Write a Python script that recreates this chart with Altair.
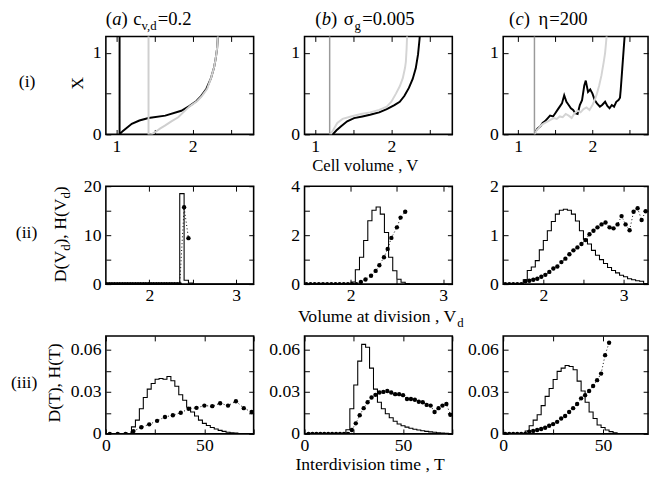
import altair as alt
import pandas as pd

FONT = "Liberation Serif"
FS = 18
TS = 19

# ---------------- Row (i): X vs cell volume V ----------------
a1_black_v = [1.04, 1.04, 1.08, 1.12, 1.20, 1.30, 1.42, 1.64, 1.85, 1.96, 2.05, 2.11, 2.18, 2.24, 2.28, 2.30, 2.32, 2.33, 2.34]
a1_black_x = [1.30, 0.00, 0.04, 0.07, 0.13, 0.17, 0.20, 0.23, 0.29, 0.35, 0.41, 0.47, 0.56, 0.69, 0.82, 0.92, 1.05, 1.20, 1.30]
a1_gray_v = [1.42, 1.42, 1.46, 1.51, 1.57, 1.64, 1.72, 1.81, 1.92, 1.97, 2.06, 2.12, 2.19, 2.24, 2.28, 2.30, 2.32, 2.33, 2.34]
a1_gray_x = [1.30, 0.00, 0.00, 0.03, 0.07, 0.11, 0.16, 0.21, 0.31, 0.35, 0.41, 0.47, 0.56, 0.69, 0.82, 0.92, 1.05, 1.20, 1.30]

b1_black_v = [1.23, 1.28, 1.34, 1.42, 1.51, 1.62, 1.72, 1.84, 1.94, 2.04, 2.11, 2.17, 2.23, 2.28, 2.32, 2.35, 2.37, 2.38]
b1_black_x = [0.00, 0.05, 0.10, 0.16, 0.20, 0.22, 0.24, 0.27, 0.31, 0.36, 0.40, 0.47, 0.57, 0.68, 0.81, 0.98, 1.17, 1.30]
b1_gray_v = [1.20, 1.24, 1.29, 1.36, 1.47, 1.60, 1.72, 1.84, 1.94, 2.00, 2.06, 2.11, 2.15, 2.18, 2.19, 2.20, 2.21]
b1_gray_x = [0.00, 0.06, 0.14, 0.19, 0.22, 0.25, 0.27, 0.30, 0.34, 0.40, 0.50, 0.59, 0.69, 0.82, 0.89, 1.05, 1.30]
b1_start_v = [1.19, 1.19]
b1_start_x = [1.30, 0.00]

c1_black_v = [1.23, 1.26, 1.30, 1.33, 1.36, 1.40, 1.43, 1.47, 1.50, 1.53, 1.56, 1.59, 1.62, 1.65, 1.68, 1.71,
              1.74, 1.77, 1.80, 1.83, 1.86, 1.89, 1.91, 1.94, 1.97, 2.00, 2.03, 2.06, 2.10, 2.13, 2.17, 2.20,
              2.23, 2.26, 2.29, 2.32, 2.35, 2.37, 2.38, 2.40, 2.42, 2.44]
c1_black_x = [0.03, 0.07, 0.10, 0.14, 0.16, 0.20, 0.23, 0.22, 0.26, 0.30, 0.34, 0.38, 0.48, 0.40, 0.36, 0.32,
              0.30, 0.26, 0.25, 0.36, 0.42, 0.60, 0.66, 0.52, 0.55, 0.50, 0.42, 0.38, 0.34, 0.36, 0.40, 0.35,
              0.32, 0.36, 0.34, 0.40, 0.42, 0.45, 0.55, 0.80, 1.05, 1.30]
c1_gray_v = [1.22, 1.25, 1.28, 1.32, 1.36, 1.40, 1.44, 1.48, 1.52, 1.56, 1.60, 1.64, 1.68, 1.72, 1.76, 1.80,
             1.84, 1.88, 1.92, 1.96, 2.00, 2.03, 2.06, 2.09, 2.12, 2.15, 2.17, 2.19, 2.20]
c1_gray_x = [0.00, 0.05, 0.08, 0.12, 0.14, 0.16, 0.18, 0.20, 0.19, 0.22, 0.21, 0.25, 0.23, 0.20, 0.26, 0.29,
             0.27, 0.31, 0.33, 0.30, 0.36, 0.42, 0.50, 0.60, 0.72, 0.88, 1.00, 1.20, 1.30]
c1_start_v = [1.22, 1.22]
c1_start_x = [1.30, 0.00]

# ---------------- Row (ii): D(Vd) histogram and H(Vd) dots ----------------
a2_hist_start, a2_hist_width = 2.35, 0.05
a2_hist_vals = [18.5, 0.8, 0.2]
a2_dot_v = [1.51, 1.54, 1.57, 1.60, 1.63, 1.66, 1.69, 1.72, 1.75, 1.78, 1.81, 1.84, 1.87, 1.90, 1.93, 1.96,
            1.99, 2.02, 2.05, 2.08, 2.11, 2.14, 2.17, 2.20, 2.23, 2.26, 2.29, 2.32, 2.35, 2.40, 2.45]
a2_dot_h = [0.0] * 29 + [15.7, 9.4]

b2_hist_start, b2_hist_width = 2.005, 0.045
b2_hist_vals = [0.09, 0.59, 1.10, 1.78, 2.59, 3.02, 3.15, 2.86, 2.11, 1.10, 0.55, 0.20, 0.08, 0.02]
b2_dot_v = [1.52, 1.565, 1.61, 1.655, 1.70, 1.745, 1.79, 1.835, 1.88, 1.925, 1.97, 2.015, 2.06,
            2.11, 2.16, 2.22, 2.27, 2.31, 2.36, 2.40, 2.44, 2.50, 2.54, 2.59]
b2_dot_h = [0.0] * 13 + [0.09, 0.19, 0.34, 0.54, 0.77, 1.10, 1.44, 1.89, 2.32, 2.72, 2.96]

c2_hist_start, c2_hist_width = 1.75, 0.05
c2_hist_vals = [0.09, 0.28, 0.35, 0.48, 0.70, 0.89, 1.09, 1.28, 1.43, 1.51, 1.53, 1.51, 1.43, 1.29, 1.09, 0.92,
                0.82, 0.69, 0.59, 0.50, 0.42, 0.34, 0.28, 0.23, 0.18, 0.15, 0.11, 0.09, 0.07, 0.06, 0.01]
c2_dot_v = [1.525, 1.575, 1.625, 1.675, 1.725, 1.775, 1.825, 1.875, 1.925, 1.975, 2.025, 2.075, 2.125, 2.175,
            2.225, 2.275, 2.325, 2.375, 2.425, 2.475, 2.525, 2.575, 2.625, 2.675, 2.725, 2.775, 2.825, 2.875,
            2.925, 2.975, 3.025, 3.075, 3.125, 3.175, 3.225, 3.275]
c2_dot_h = [0.0] * 5 + [0.06, 0.07, 0.09, 0.11, 0.15, 0.19, 0.25, 0.32, 0.36, 0.45, 0.52, 0.61, 0.69, 0.75, 0.82,
                        0.90, 1.02, 1.09, 1.16, 1.22, 1.26, 1.16, 1.14, 1.22, 1.39, 1.22, 1.10, 1.48, 1.55, 1.31, 1.49]

# ---------------- Row (iii): D(T) histogram and H(T) dots ----------------
a3_hist_start, a3_hist_width = 13, 2
a3_hist_vals = [0.005, 0.0098, 0.018, 0.026, 0.032, 0.036, 0.039, 0.0396, 0.039, 0.041, 0.038, 0.034, 0.028,
                0.024, 0.019, 0.0156, 0.0128, 0.0098, 0.0075, 0.006, 0.0045, 0.0035, 0.0025, 0.0018, 0.0012,
                0.0008, 0.0005, 0.0003, 0.0001]
a3_dot_t = [2, 6, 10, 14, 18, 22, 26, 30, 34, 38, 42, 46, 50, 54, 58, 62, 66, 70, 74]
a3_dot_h = [0, 0, 0, 0.002, 0.0047, 0.0068, 0.0093, 0.0121, 0.0133, 0.0151, 0.0179, 0.0186, 0.0202, 0.0198,
            0.0219, 0.0202, 0.0233, 0.0184, 0.0156]

b3_hist_start, b3_hist_width = 21, 2
b3_hist_vals = [0.003, 0.018, 0.035, 0.052, 0.064, 0.062, 0.047, 0.032, 0.0226, 0.018, 0.0144, 0.0115, 0.009,
                0.007, 0.0058, 0.0048, 0.004, 0.0033, 0.0027, 0.0022, 0.0018, 0.0014, 0.0011, 0.0008, 0.0006,
                0.0004, 0.0003]
b3_dot_t = [2, 4, 6, 8, 10, 12, 14, 16, 18, 20, 22, 24, 26, 28, 30, 32, 34, 36, 38, 40, 42, 44, 46, 48, 50,
            52, 54, 56, 58, 60, 62, 64, 66, 68, 70, 72, 74]
b3_dot_h = [0] * 11 + [0.0028, 0.0075, 0.0133, 0.0184, 0.0226, 0.026, 0.0279, 0.0296, 0.030, 0.0307, 0.0296,
                       0.0284, 0.0284, 0.0277, 0.0249, 0.0249, 0.0244, 0.023, 0.0226, 0.0207, 0.0202, 0.0156,
                       0.0184, 0.0202, 0.0214, 0.0137]

c3_hist_start, c3_hist_width = 11, 2
c3_hist_vals = [0.002, 0.0058, 0.0098, 0.0137, 0.0202, 0.0268, 0.0324, 0.0389, 0.0447, 0.047, 0.0489, 0.0482,
                0.0459, 0.0377, 0.0307, 0.0226, 0.0156, 0.011, 0.0063, 0.0045, 0.0028, 0.0016, 0.0008, 0.0003]
c3_dot_t = [1, 3, 5, 7, 9, 11, 13, 15, 17, 19, 21, 23, 25, 27, 29, 31, 33, 35, 37, 39, 41, 43, 45, 47, 49, 51, 53]
c3_dot_h = [0] * 6 + [0.0016, 0.0021, 0.0028, 0.0035, 0.0044, 0.0058, 0.0070, 0.0086, 0.011, 0.0128, 0.0156,
                      0.0184, 0.0214, 0.0254, 0.0277, 0.0307, 0.0342, 0.0384, 0.0431, 0.0563, 0.0652]

# ---------------- layout ----------------
W = 151
WC = 148
H = 100
COL_X = [107, 307, 508]
ROW_Y = [34, 185, 335]

row_cfg = [
    dict(xt=[1, 1.5, 2, 2.5], xl=[1, 2], yt=[0, 0.5, 1], yl=[0, 1], ydom=[0, 1.2]),
    dict(xt=[2, 2.5, 3], xl=[2, 3]),
    dict(xt=[0, 25, 50, 75], xl=[0, 50], yt=[0, 0.015, 0.03, 0.045, 0.06], yl=[0, 0.03, 0.06], ydom=[0, 0.07]),
]
xdoms = {(0, 0): [0.86, 2.8], (0, 1): [0.86, 2.8], (0, 2): [0.8, 2.747],
         (1, 0): [1.5, 3.2], (1, 1): [1.5, 3.1], (1, 2): [1.5, 3.305],
         (2, 0): [0, 75], (2, 1): [0, 75], (2, 2): [0, 72.5]}
ydoms2 = {0: ([0, 5, 10, 15, 20], [0, 10, 20], [0, 20]),
          1: ([0, 1, 2, 3, 4], [0, 2, 4], [0, 4]),
          2: ([0, 0.5, 1, 1.5, 2], [0, 1, 2], [0, 2])}


def lab_expr(labels):
    arr = ",".join(repr(v) for v in labels)
    return "indexof([" + arr + "], datum.value) >= 0 ? format(datum.value, '~g') : ''"


def axis(orient, ticks, labels, show):
    kw = dict(orient=orient, values=ticks, tickSize=5, offset=-5, domain=False, grid=False, title=None,
              tickColor="black", tickWidth=1, labelFont=FONT, labelFontSize=FS, labelColor="black",
              labelOverlap=False, labelFlush=False)
    if show:
        kw.update(labelExpr=lab_expr(labels), labelPadding=5 if orient == "left" else 3)
    else:
        kw.update(labels=False)
    return alt.Axis(**kw)


one = pd.DataFrame({"k": [0]})


def txt(text, x, y, size=FS, angle=0, align="left", baseline="alphabetic", style="normal"):
    return alt.Chart(one).mark_text(text=text, font=FONT, fontSize=size, angle=angle, align=align,
                                    baseline=baseline, fontStyle=style, color="black").encode(
        x=alt.value(x), y=alt.value(y))


def path_df(vs, xs):
    return pd.DataFrame({"x": vs, "y": xs, "i": list(range(len(vs)))})


def hist_df(start, width, vals, xdom):
    xs = [xdom[0]]
    ys = [0.0]
    for i, v in enumerate(vals):
        xs.append(start + i * width)
        ys.append(v)
    xs.append(start + len(vals) * width)
    ys.append(0.0)
    xs.append(xdom[1])
    ys.append(0.0)
    return pd.DataFrame({"x": xs, "y": ys, "i": list(range(len(xs)))})


annotations = {
    (0, 0): [("(", 107, 22, TS, 0, "normal"), ("a", 113.5, 22, TS, 0, "italic"), (")", 123, 22, TS, 0, "normal"),
             ("c", 135, 22, TS, 0, "normal"), ("v,d", 143.5, 27, 13, 0, "normal"), ("=0.2", 160, 22, TS, 0, "normal"),
             ("(i)", 18, 86, FS, 0, "normal")],
    (0, 1): [("(", 318, 22, TS, 0, "normal"), ("b", 324.5, 22, TS, 0, "italic"), (")", 334, 22, TS, 0, "normal"),
             ("σ", 347, 22, TS, 0, "normal"), ("g", 358, 27, 13, 0, "normal"), ("=0.005", 366, 22, TS, 0, "normal")],
    (0, 2): [("(", 514, 22, TS, 0, "normal"), ("c", 520.5, 22, TS, 0, "italic"), (")", 529, 22, TS, 0, "normal"),
             ("η", 544, 22, TS, 0, "normal"), ("=200", 555, 22, TS, 0, "normal")],
    (1, 0): [("(ii)", 15, 238, FS, 0, "normal"),
             ("D(V", 66, 283, FS, 270, "normal"), ("d", 70, 251, 13, 270, "normal"),
             ("), H(V", 66, 244.5, FS, 270, "normal"), ("d", 70, 197.5, 13, 270, "normal"),
             (")", 66, 191, FS, 270, "normal")],
    (2, 0): [("(iii)", 10, 388, FS, 0, "normal")],
}
centered = {
    (0, 0): [("X", 79, 82, 270, FS)],
    (2, 0): [("D(T), H(T)", 55, 383, 270, FS)],
    (0, 1): [("Cell volume , V", 369, 171, 0, 17)],
    (2, 1): [("Interdivision time , T", 374, 472, 0, FS)],
}
right_aligned = {
    (1, 1): [("Volume at division , V", 462, 324, FS)],
}
sub_after = {
    (1, 1): [("d", 463, 329, 13)],
}

series_row1 = {
    0: [(a1_black_v, a1_black_x, "black", 2.0), (a1_gray_v, a1_gray_x, "#cfcfcf", 2.0)],
    1: [(b1_black_v, b1_black_x, "black", 2.0), (b1_gray_v, b1_gray_x, "#d4d4d4", 2.0),
        (b1_start_v, b1_start_x, "#9a9a9a", 1.5)],
    2: [(c1_black_v, c1_black_x, "black", 2.0), (c1_gray_v, c1_gray_x, "#d4d4d4", 2.0),
        (c1_start_v, c1_start_x, "#9a9a9a", 1.5)],
}
hist_data = {
    (1, 0): (a2_hist_start, a2_hist_width, a2_hist_vals, a2_dot_v, a2_dot_h),
    (1, 1): (b2_hist_start, b2_hist_width, b2_hist_vals, b2_dot_v, b2_dot_h),
    (1, 2): (c2_hist_start, c2_hist_width, c2_hist_vals, c2_dot_v, c2_dot_h),
    (2, 0): (a3_hist_start, a3_hist_width, a3_hist_vals, a3_dot_t, a3_dot_h),
    (2, 1): (b3_hist_start, b3_hist_width, b3_hist_vals, b3_dot_t, b3_dot_h),
    (2, 2): (c3_hist_start, c3_hist_width, c3_hist_vals, c3_dot_t, c3_dot_h),
}

panels = []
for r in range(3):
    for c in range(3):
        cfg = row_cfg[r]
        xdom = xdoms[(r, c)]
        if r == 1:
            yt, yl, ydom = ydoms2[c]
        else:
            yt, yl, ydom = cfg["yt"], cfg["yl"], cfg["ydom"]
        xs = alt.Scale(domain=xdom, nice=False, zero=False)
        ys = alt.Scale(domain=ydom, nice=False, zero=False)
        ax_b = axis("bottom", cfg["xt"], cfg["xl"], True)
        ax_l = axis("left", yt, yl, True)
        ax_t = axis("top", cfg["xt"], cfg["xl"], False)
        ax_r = axis("right", yt, yl, False)
        layers = []
        if r == 0:
            first = True
            for vs, xv, col, sw in series_row1[c]:
                layers.append(alt.Chart(path_df(vs, xv)).mark_line(color=col, strokeWidth=sw, clip=True).encode(
                    x=alt.X("x:Q", scale=xs, axis=ax_b if first else None),
                    y=alt.Y("y:Q", scale=ys, axis=ax_l if first else None),
                    order="i:Q"))
                first = False
            mirror_df = path_df(series_row1[c][0][0], series_row1[c][0][1])
        else:
            hs, hw, hv, dv, dh = hist_data[(r, c)]
            hdf = hist_df(hs, hw, hv, xdom)
            ddf = path_df(dv, dh)
            layers.append(alt.Chart(hdf).mark_line(interpolate="step-after", color="black", strokeWidth=1.1,
                                                   clip=True).encode(
                x=alt.X("x:Q", scale=xs, axis=ax_b), y=alt.Y("y:Q", scale=ys, axis=ax_l), order="i:Q"))
            layers.append(alt.Chart(ddf).mark_line(color="black", strokeWidth=1, strokeDash=[1, 2.5],
                                                   clip=True).encode(
                x=alt.X("x:Q", scale=xs, axis=None), y=alt.Y("y:Q", scale=ys, axis=None), order="i:Q"))
            layers.append(alt.Chart(ddf).mark_circle(color="black", opacity=1, size=20, clip=True).encode(
                x=alt.X("x:Q", scale=xs, axis=None), y=alt.Y("y:Q", scale=ys, axis=None)))
            mirror_df = hdf
        layers.append(alt.Chart(mirror_df).mark_point(opacity=0, size=1, clip=True).encode(
            x=alt.X("x:Q", scale=xs, axis=ax_t), y=alt.Y("y:Q", scale=ys, axis=ax_r)))
        ox, oy = COL_X[c], ROW_Y[r]
        for t, px, py, sz, ang, st in annotations.get((r, c), []):
            layers.append(txt(t, px - ox, py - oy, size=sz, angle=ang, style=st))
        for t, px, py, ang, sz in centered.get((r, c), []):
            layers.append(txt(t, px - ox, py - oy, size=sz, angle=ang, align="center",
                              baseline="middle" if ang else "alphabetic"))
        for t, px, py, sz in right_aligned.get((r, c), []):
            layers.append(txt(t, px - ox, py - oy, size=sz, align="right"))
        for t, px, py, sz in sub_after.get((r, c), []):
            layers.append(txt(t, px - ox, py - oy, size=sz))
        p = alt.layer(*layers).resolve_axis(x="independent", y="independent").properties(
            width=WC if c == 2 else W, height=H)
        panels.append(p)

chart = alt.ConcatChart(concat=panels, columns=3, spacing={"row": 53, "column": 52}, bounds="flush",
                        align="each",
                        padding={"left": 2, "top": -4, "right": 0, "bottom": 0},
                        background="white").configure(font=FONT).configure_view(
    stroke="black", strokeWidth=1.6)

chart.save("out.html", embed_options={"renderer": "svg", "actions": False})
